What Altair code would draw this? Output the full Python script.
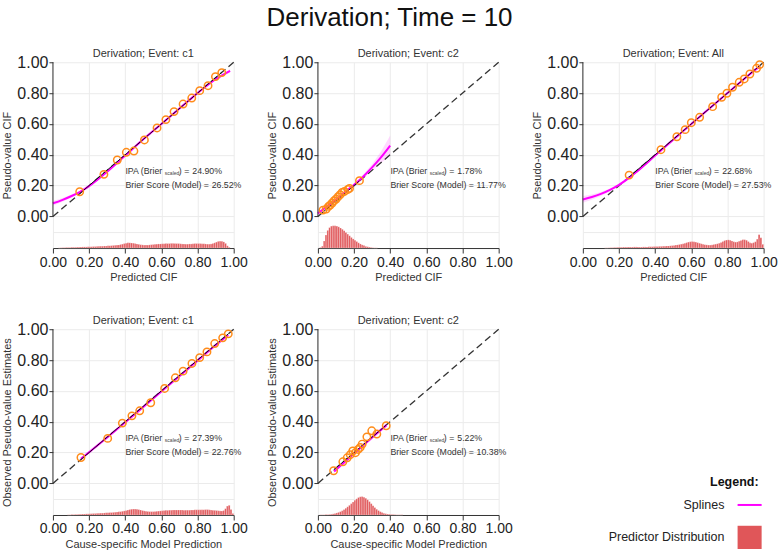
import altair as alt
import pandas as pd

TITLE = "Derivation; Time = 10"
PANEL_TITLES = ["Derivation; Event: c1", "Derivation; Event: c2", "Derivation; Event: All",
                "Derivation; Event: c1", "Derivation; Event: c2"]
X_TITLES = ["Predicted CIF", "Predicted CIF", "Predicted CIF",
            "Cause-specific Model Prediction", "Cause-specific Model Prediction"]
Y_TITLES = ["Pseudo-value CIF", "Pseudo-value CIF", "Pseudo-value CIF",
            "Observed Pseudo-value Estimates", "Observed Pseudo-value Estimates"]
IPA = ["24.90%", "1.78%", "22.68%", "27.39%", "5.22%"]
BRIER = ["26.52%", "11.77%", "27.53%", "22.76%", "10.38%"]

# calibration points (predicted, pseudo-value)
PTS_X = [
    [0.148, 0.282, 0.356, 0.406, 0.448, 0.506, 0.576, 0.625, 0.670, 0.720, 0.768, 0.812, 0.858, 0.899, 0.934],
    [0.028, 0.046, 0.059, 0.068, 0.079, 0.090, 0.101, 0.112, 0.123, 0.134, 0.147, 0.166, 0.175, 0.230],
    [0.256, 0.432, 0.520, 0.566, 0.600, 0.646, 0.718, 0.768, 0.797, 0.828, 0.865, 0.893, 0.924, 0.961, 0.978],
    [0.155, 0.303, 0.384, 0.437, 0.480, 0.541, 0.618, 0.677, 0.720, 0.769, 0.812, 0.852, 0.895, 0.939, 0.970],
    [0.087, 0.138, 0.162, 0.179, 0.193, 0.208, 0.223, 0.234, 0.245, 0.271, 0.298, 0.326, 0.378],
]
PTS_Y = [
    [0.160, 0.273, 0.366, 0.416, 0.424, 0.496, 0.574, 0.628, 0.680, 0.729, 0.768, 0.816, 0.848, 0.907, 0.933],
    [0.041, 0.048, 0.065, 0.074, 0.087, 0.102, 0.113, 0.128, 0.141, 0.156, 0.162, 0.175, 0.182, 0.232],
    [0.268, 0.433, 0.517, 0.563, 0.608, 0.643, 0.712, 0.773, 0.799, 0.838, 0.870, 0.892, 0.924, 0.961, 0.985],
    [0.168, 0.292, 0.391, 0.438, 0.471, 0.523, 0.616, 0.685, 0.728, 0.778, 0.816, 0.853, 0.907, 0.944, 0.970],
    [0.082, 0.140, 0.166, 0.186, 0.210, 0.199, 0.220, 0.233, 0.255, 0.302, 0.341, 0.320, 0.374],
]

# spline fits with confidence band
SPL_X = [
    [0.0, 0.05, 0.1, 0.15, 0.2, 0.3, 0.4, 0.5, 0.6, 0.7, 0.8, 0.9, 0.98],
    [0.0, 0.05, 0.1, 0.15, 0.2, 0.25, 0.3, 0.35, 0.4],
    [0.0, 0.05, 0.1, 0.15, 0.2, 0.25, 0.3, 0.4, 0.5, 0.6, 0.7, 0.8, 0.9, 0.98],
    [0.155, 0.3, 0.45, 0.6, 0.75, 0.9, 0.97],
    [0.09, 0.15, 0.2, 0.25, 0.3, 0.38],
]
SPL_Y = [
    [0.085, 0.106, 0.131, 0.160, 0.197, 0.290, 0.395, 0.500, 0.600, 0.700, 0.800, 0.890, 0.945],
    [0.020, 0.065, 0.110, 0.158, 0.205, 0.258, 0.318, 0.385, 0.460],
    [0.110, 0.126, 0.146, 0.172, 0.205, 0.245, 0.292, 0.395, 0.498, 0.600, 0.700, 0.800, 0.900, 0.975],
    [0.160, 0.298, 0.446, 0.596, 0.746, 0.896, 0.963],
    [0.077, 0.140, 0.193, 0.245, 0.298, 0.378],
]
SPL_LO = [
    [0.070, 0.094, 0.122, 0.154, 0.192, 0.286, 0.391, 0.496, 0.596, 0.696, 0.795, 0.883, 0.933],
    [0.008, 0.057, 0.104, 0.152, 0.197, 0.245, 0.297, 0.347, 0.395],
    [0.088, 0.109, 0.133, 0.162, 0.197, 0.239, 0.287, 0.391, 0.494, 0.596, 0.696, 0.796, 0.895, 0.967],
    [0.152, 0.293, 0.442, 0.592, 0.742, 0.891, 0.955],
    [0.070, 0.135, 0.189, 0.241, 0.292, 0.366],
]
SPL_HI = [
    [0.100, 0.118, 0.140, 0.166, 0.202, 0.294, 0.399, 0.504, 0.604, 0.704, 0.805, 0.897, 0.957],
    [0.032, 0.073, 0.116, 0.164, 0.213, 0.271, 0.339, 0.423, 0.525],
    [0.132, 0.143, 0.159, 0.182, 0.213, 0.251, 0.297, 0.399, 0.502, 0.604, 0.704, 0.804, 0.905, 0.983],
    [0.168, 0.303, 0.450, 0.600, 0.750, 0.901, 0.971],
    [0.084, 0.145, 0.197, 0.249, 0.304, 0.390],
]

# predictor distribution (bins of width 0.01, counts per mille of panel height)
HIST_START = [0.03, 0.01, 0.12, 0.08, 0.01]
HIST_VALS = [
    [1, 1, 2, 2, 3, 3, 3, 4,
     4, 4, 5, 5, 5, 6, 6, 6, 7, 7,
     7, 8, 8, 9, 9, 10, 10, 11, 11, 12,
     12, 13, 14, 15, 16, 17, 19, 21, 24, 26,
     28, 28, 27, 26, 24, 22, 20, 18, 17, 16,
     16, 16, 17, 18, 19, 20, 21, 22, 22, 23,
     23, 24, 24, 24, 25, 25, 25, 24, 24, 23,
     22, 22, 21, 21, 22, 22, 23, 24, 24, 24,
     24, 23, 23, 22, 21, 21, 22, 24, 28, 32,
     36, 37, 36, 33, 25, 12, 4],
    [3, 10, 38, 70, 95, 110, 118, 120, 120, 118,
     114, 108, 101, 93, 84, 75, 66, 57, 49, 42,
     35, 28, 22, 17, 13, 9, 7, 5, 3, 2,
     1, 1],
    [1, 1, 2, 2, 2, 3, 3, 4, 4,
     4, 5, 5, 5, 5, 5, 5, 6, 6, 6,
     5, 5, 6, 6, 6, 7, 7, 7, 8, 8,
     8, 9, 9, 10, 10, 11, 11, 12, 13, 14,
     16, 17, 19, 21, 23, 26, 29, 32, 34, 35,
     34, 32, 29, 26, 23, 20, 18, 17, 16, 16,
     17, 19, 21, 23, 26, 30, 35, 40, 43, 44,
     42, 38, 34, 32, 33, 37, 41, 45, 45, 42,
     35, 28, 26, 29, 34, 48, 72, 55, 20],
    [1, 1, 2,
     2, 3, 3, 4, 4, 5, 5, 6, 6, 7,
     7, 8, 8, 9, 9, 10, 10, 11, 12, 12,
     13, 13, 14, 15, 16, 17, 18, 20, 22, 24,
     27, 29, 31, 32, 32, 31, 29, 27, 24, 22,
     20, 19, 18, 18, 18, 19, 20, 21, 22, 23,
     24, 25, 25, 26, 26, 27, 27, 27, 27, 27,
     27, 26, 26, 26, 26, 27, 27, 28, 28, 28,
     28, 28, 28, 29, 29, 28, 27, 26, 25, 24,
     23, 22, 22, 24, 34, 48, 52, 30, 8],
    [1, 1, 1, 2, 2, 3, 4, 6, 8, 11,
     14, 18, 23, 29, 36, 44, 52, 61, 70, 79,
     87, 94, 98, 99, 96, 90, 82, 72, 61, 50,
     40, 31, 24, 18, 13, 9, 7, 5, 4, 3,
     2, 2, 1, 1, 1, 1],
]
HIST_BIN = 0.01
HIST_FULL = 1000.0

X_TICKS = [0.0, 0.2, 0.4, 0.6, 0.8, 1.0]
Y_TICKS = [-0.1, 0.0, 0.2, 0.4, 0.6, 0.8, 1.0]
Y_MIN = -0.205

LEGEND_LABELS = ["Splines", "Predictor Distribution"]

ORANGE = "#ff8c1a"
MAGENTA = "#ff00ff"
RED = "#e05659"
GRID = "#ebebeb"
AXC = "#333333"
W, H = 181, 186

FONT = "Liberation Sans"


def xenc(field, title):
    return alt.X(field, type="quantitative",
                 scale=alt.Scale(domain=[0, 1], nice=False, zero=False),
                 axis=alt.Axis(values=X_TICKS, format=".2f", title=title,
                               labelFontSize=14, labelColor="#222", labelPadding=2,
                               labelFlush=False, labelOverlap=False,
                               tickSize=5, tickColor=AXC, domainColor=AXC,
                               grid=True, gridColor=GRID,
                               titleFontSize=11, titleFontWeight="normal",
                               titleColor="#333", titlePadding=3))


def yenc(field, title):
    return alt.Y(field, type="quantitative",
                 scale=alt.Scale(domain=[Y_MIN, 1.0], nice=False, zero=False),
                 axis=alt.Axis(values=Y_TICKS, title=title,
                               labelExpr="datum.value < 0 ? '' : format(datum.value, '.2f')",
                               labelFontSize=16, labelColor="#222", labelPadding=1,
                               labelOverlap=False,
                               tickSize=4, tickColor=AXC,
                               tickOpacity={"condition": {"test": "datum.value < 0", "value": 0}, "value": 1},
                               domain=False, grid=True, gridColor=GRID,
                               titleFontSize=11, titleFontWeight="normal",
                               titleColor="#333", titlePadding=4))


def panel(i):
    xt, yt = X_TITLES[i], Y_TITLES[i]
    hist = pd.DataFrame({
        "x0": [round(HIST_START[i] + k * HIST_BIN, 4) for k in range(len(HIST_VALS[i]))],
        "h": HIST_VALS[i],
    })
    hist["x1"] = hist["x0"] + HIST_BIN
    hist_layer = alt.Chart(hist).transform_calculate(
        top=f"{Y_MIN} + datum.h * {(1 - Y_MIN) / HIST_FULL}", base=f"{Y_MIN}"
    ).mark_bar(color=RED, stroke="white", strokeWidth=0.35, strokeOpacity=0.7).encode(
        x=xenc("x0", xt), x2="x1", y=yenc("top", yt), y2="base:Q")

    spl = pd.DataFrame({"x": SPL_X[i], "y": SPL_Y[i], "lo": SPL_LO[i], "hi": SPL_HI[i]})
    band = alt.Chart(spl).mark_area(color=MAGENTA, opacity=0.15).encode(
        x=xenc("x", xt), y=yenc("lo", yt), y2="hi")
    spline = alt.Chart(spl).mark_line(color=MAGENTA, strokeWidth=2, interpolate="monotone").encode(
        x=xenc("x", xt), y=yenc("y", yt))

    diag = pd.DataFrame({"x": [0.0, 1.0], "y": [0.0, 1.0]})
    dashed = alt.Chart(diag).mark_line(color=AXC, strokeWidth=1.3, strokeDash=[7, 4]).encode(
        x=xenc("x", xt), y=yenc("y", yt))
    lo_x, hi_x = min(PTS_X[i]), max(PTS_X[i])
    seg = pd.DataFrame({"x": [lo_x, hi_x], "y": [lo_x, hi_x]})
    solid = alt.Chart(seg).mark_line(color="#111", strokeWidth=1).encode(
        x=xenc("x", xt), y=yenc("y", yt))

    pts = pd.DataFrame({"x": PTS_X[i], "y": PTS_Y[i]})
    points = alt.Chart(pts).mark_point(shape="circle", filled=False, color=ORANGE,
                                       size=55, strokeWidth=1.5, opacity=1).encode(
        x=xenc("x", xt), y=yenc("y", yt))

    yline = alt.Chart(pd.DataFrame({"x": [0.0], "y0": [0.0], "y1": [1.0]})).mark_rule(
        color=AXC, strokeWidth=1).encode(x=xenc("x", xt), y=yenc("y0", yt), y2="y1")

    ann = pd.DataFrame({"x": [0.401, 0.401], "y": [0.295, 0.205],
                        "t": ["IPA (Brier", "Brier Score (Model) ="]})
    sub = pd.DataFrame({"x": [0.401], "y": [0.295], "t": ["scaled"]})
    close = pd.DataFrame({"x": [0.401], "y": [0.295], "t": [") ="]})
    vals = pd.DataFrame({"x": [0.771, 0.878], "y": [0.295, 0.205], "t": [IPA[i], BRIER[i]]})
    tstyle = dict(align="left", baseline="middle", fontSize=8.8, color="#333")
    t1 = alt.Chart(ann).mark_text(**tstyle).encode(x=xenc("x", xt), y=yenc("y", yt), text="t:N")
    t2 = alt.Chart(sub).mark_text(align="left", baseline="middle", fontSize=5, color="#444",
                                  dx=39.5, dy=2).encode(x=xenc("x", xt), y=yenc("y", yt), text="t:N")
    t3 = alt.Chart(close).mark_text(dx=53.5, **tstyle).encode(x=xenc("x", xt), y=yenc("y", yt), text="t:N")
    t4 = alt.Chart(vals).mark_text(**tstyle).encode(x=xenc("x", xt), y=yenc("y", yt), text="t:N")

    return alt.layer(hist_layer, band, dashed, spline, solid, points, yline, t1, t2, t3, t4).properties(
        width=W, height=H,
        title=alt.TitleParams(PANEL_TITLES[i], fontSize=11, fontWeight="normal",
                              color="#333", offset=-5, anchor="middle", frame="group"))


def legend_cell():
    sx = alt.Scale(domain=[0, 1], nice=False, zero=False)
    sy = alt.Scale(domain=[0, 1], nice=False, zero=False)
    head = pd.DataFrame({"x": [0.972], "y": [0.18], "t": ["Legend:"]})
    labs = pd.DataFrame({"x": [0.783, 0.783], "y": [0.052, -0.12], "t": LEGEND_LABELS})
    line = pd.DataFrame({"x": [0.856], "x2": [0.989], "y": [0.054]})
    box = pd.DataFrame({"x": [0.856], "x2": [0.989], "y": [-0.058], "y2": [-0.183]})
    h = alt.Chart(head).mark_text(align="right", baseline="middle", fontSize=12.5,
                                  fontWeight="bold", color="#111").encode(
        x=alt.X("x:Q", scale=sx, axis=None), y=alt.Y("y:Q", scale=sy, axis=None), text="t:N")
    l = alt.Chart(labs).mark_text(align="right", baseline="middle", fontSize=12.5, color="#222").encode(
        x=alt.X("x:Q", scale=sx, axis=None), y=alt.Y("y:Q", scale=sy, axis=None), text="t:N")
    ln = alt.Chart(line).mark_rule(color=MAGENTA, strokeWidth=2).encode(
        x=alt.X("x:Q", scale=sx, axis=None), x2="x2:Q", y=alt.Y("y:Q", scale=sy, axis=None))
    bx = alt.Chart(box).mark_rect(color=RED).encode(
        x=alt.X("x:Q", scale=sx, axis=None), x2="x2:Q",
        y=alt.Y("y:Q", scale=sy, axis=None), y2="y2:Q")
    return alt.layer(h, l, ln, bx).properties(width=W, height=H)


chart = alt.concat(
    *[panel(i) for i in range(5)], legend_cell(),
    columns=3,
    spacing={"row": 81.3, "column": 84.3},
    bounds="flush",
    title=alt.TitleParams(TITLE, fontSize=26, fontWeight="normal", anchor="middle",
                          color="#111", offset=17),
).properties(
    padding={"left": 1, "top": 5, "right": 0, "bottom": 0}
).configure(font=FONT).configure_view(stroke=None)

chart.save("out.html", embed_options={"renderer": "svg", "actions": False})
